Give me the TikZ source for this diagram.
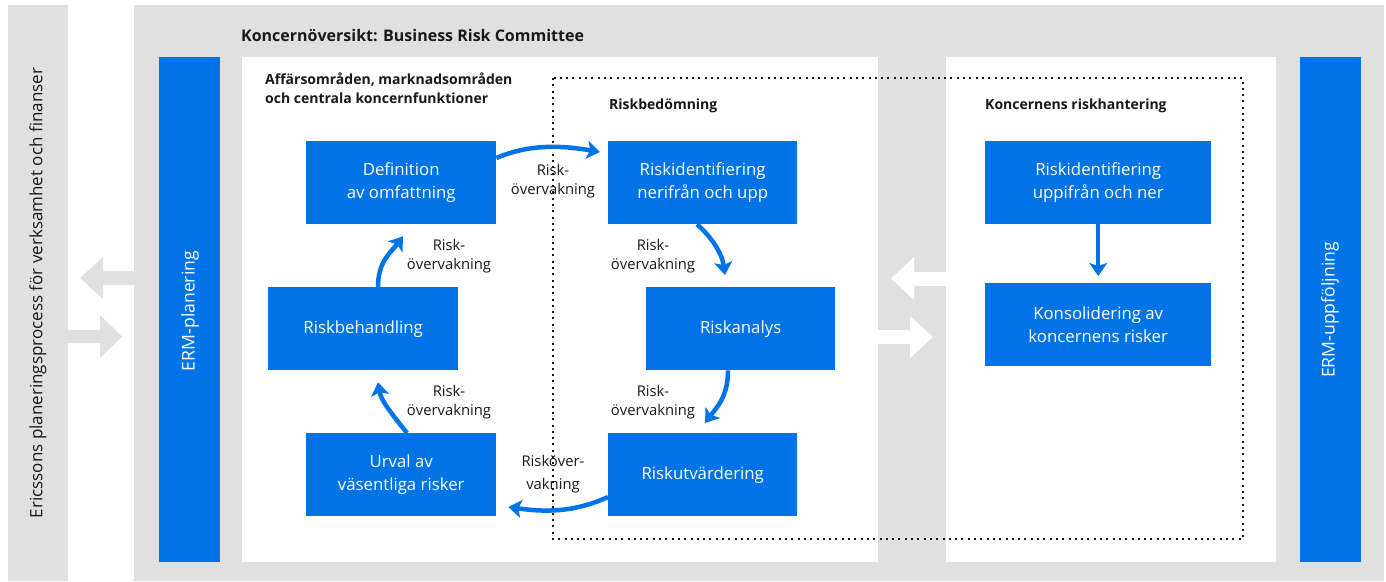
\documentclass[tikz,border=0pt]{standalone}
\usepackage{fontspec}
\setmainfont{Open Sans}
\usetikzlibrary{arrows.meta,calc}
\definecolor{ebl}{RGB}{0,116,230}
\definecolor{egr}{RGB}{224,224,224}
\definecolor{etx}{RGB}{25,25,25}
\begin{document}
\begin{tikzpicture}[x=1pt,y=-1pt,
  blubox/.style={fill=ebl,text=white,inner sep=0pt,align=center,anchor=north west,
    font=\fontsize{16.8}{23}\selectfont},
  lbl/.style={text=etx,align=center,inner sep=0pt,font=\fontsize{14.8}{18.5}\selectfont},
  hdr/.style={text=etx,align=left,inner sep=0pt,anchor=base west,font=\bfseries\fontsize{14}{19}\selectfont},
  flow/.style={draw=ebl,line width=4.5pt,-{Stealth[length=13pt,width=18pt,inset=3pt]}},
  greyarr/.style={fill=egr},
  whitearr/.style={fill=white}]
\useasboundingbox (0,0) rectangle (1386,581);
% backgrounds
\fill[egr] (8,5) rectangle (68,581);
\fill[egr] (134,5) rectangle (1384,581);
\fill[white] (242,57) rectangle (878,562);
\fill[white] (946,57) rectangle (1276,562);
\fill[ebl] (159,57) rectangle (220,562);
\fill[ebl] (1300,57) rectangle (1361,562);
% grey arrows in the white gap
\fill[greyarr] (80,278) -- (103,257) -- (103,271) -- (134,271) -- (134,285) -- (103,285) -- (103,299) -- cycle;
\fill[greyarr] (68,330) -- (100,330) -- (100,315) -- (122,336.5) -- (100,358) -- (100,343) -- (68,343) -- cycle;
% white arrows in the grey gap
\fill[whitearr] (891,278.5) -- (914,257) -- (914,272) -- (946,272) -- (946,286) -- (914,286) -- (914,300) -- cycle;
\fill[whitearr] (878,330) -- (910,330) -- (910,316) -- (933,337) -- (910,358) -- (910,344) -- (878,344) -- cycle;
% dotted frame
\draw[etx,line width=2pt,dash pattern=on 2pt off 4.3pt] (553,78) rectangle (1243,539);
% texts
\node[text=etx,anchor=base west,inner sep=0pt,font=\bfseries\fontsize{16}{20}\selectfont] (title) at (241,41) {Koncernöversikt: Business Risk Committee};
\node[hdr,anchor=north west] (aff) at (265,73) {Affärsområden, marknadsområden\\och centrala koncernfunktioner};
\node[hdr] (rb) at (609,109) {Riskbedömning};
\node[hdr] (krh) at (985,109) {Koncernens riskhantering};
\node[rotate=90,text=etx,inner sep=0pt,font=\fontsize{17}{20}\selectfont] (eric) at (38,293) {Ericssons planeringsprocess för verksamhet och finanser};
\node[rotate=90,text=white,inner sep=0pt,font=\fontsize{17.6}{20}\selectfont] (ermp) at (190,311) {ERM-planering};
\node[rotate=90,text=white,inner sep=0pt,font=\fontsize{17.6}{20}\selectfont] (ermu) at (1330,310) {ERM-uppföljning};
% boxes
\node[blubox,minimum width=190pt,minimum height=83pt] (def) at (306,141) {Definition\\av omfattning};
\node[blubox,minimum width=189pt,minimum height=83pt] (rid) at (608,141) {Riskidentifiering\\nerifrån och upp};
\node[blubox,minimum width=190pt,minimum height=83pt] (rbeh) at (268,287) {Riskbehandling};
\node[blubox,minimum width=189pt,minimum height=83pt] (ran) at (646,287) {Riskanalys};
\node[blubox,minimum width=190pt,minimum height=83pt] (urv) at (306,433) {Urval av\\väsentliga risker};
\node[blubox,minimum width=189pt,minimum height=83pt] (rut) at (608,433) {Riskutvärdering};
\node[blubox,minimum width=226pt,minimum height=83pt] (rid2) at (985,141) {Riskidentifiering\\uppifrån och ner};
\node[blubox,minimum width=226pt,minimum height=83pt] (kons) at (985,283) {Konsolidering av\\koncernens risker};
% labels
\node[lbl] (l1) at (553,181) {Risk-\\övervakning};
\node[lbl] (l2) at (653,256) {Risk-\\övervakning};
\node[lbl] (l3) at (653,402) {Risk-\\övervakning};
\node[lbl,font=\fontsize{14.8}{23}\selectfont] (l4) at (553,474) {Risköver-\\vakning};
\node[lbl] (l5) at (449,402) {Risk-\\övervakning};
\node[lbl] (l6) at (449,256) {Risk-\\övervakning};
% flow arrows
\draw[flow] ($(def.north east)+(0,17)$) .. controls +(35,-15) and +(-35,-6) .. ($(rid.north west)+(-8,11)$);
\draw[flow] ($(rid.south west)+(89,0)$) .. controls +(14,12) and +(-3,-22) .. ($(ran.north west)+(79,-12)$);
\draw[flow] ($(ran.south west)+(82,0)$) .. controls +(0,26) and +(12,-16) .. ($(rut.north west)+(97,-10)$);
\draw[flow] ($(rut.north west)+(0,64)$) .. controls +(-35,16) and +(35,5) .. ($(urv.north east)+(12,74)$);
\draw[flow] ($(urv.north west)+(101,0)$) .. controls +(-16,-20) and +(3,18) .. ($(rbeh.south west)+(110,12)$);
\draw[flow] ($(rbeh.north west)+(110,0)$) .. controls +(0,-26) and +(-12,16) .. ($(def.south west)+(97,12)$);
\draw[flow] (rid2.south) -- ($(kons.north)+(0,-7)$);
\end{tikzpicture}
\end{document}
